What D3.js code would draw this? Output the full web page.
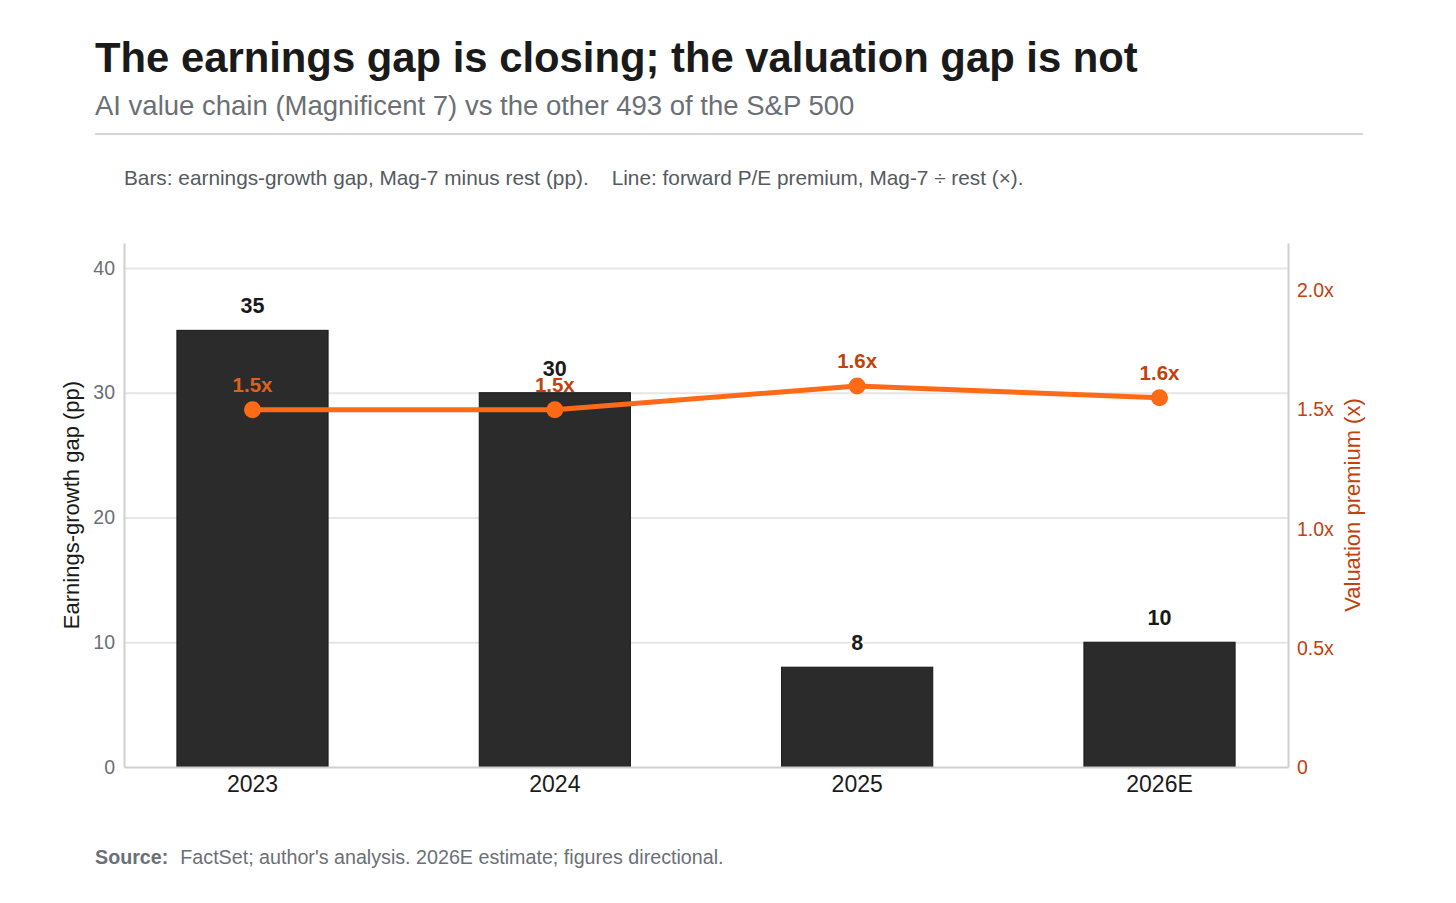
<!DOCTYPE html>
<html>
<head>
<meta charset="utf-8">
<script src="https://cdn.jsdelivr.net/npm/d3@7"></script>
<style>
    body { margin: 0; background: #fff; }
    svg { display: block; font-family: "Liberation Sans", Arial, sans-serif; }
    .grid line { stroke: #e6e6e6; stroke-width: 2; }
    .grid .domain { display: none; }
    .axis .domain { stroke: #cfcfcf; stroke-width: 2; }
    .axis .tick line { display: none; }
</style>
</head>
<body>
<svg id="svg"></svg>
<script>
// data
const years = ['2023', '2024', '2025', '2026E'];
const earningsGap = [35, 30, 8, 10];          // pp, Mag-7 minus rest
const peRatio = [1.5, 1.5, 1.6, 1.55];        // forward P/E premium (x)
const peLabels = ['1.5x', '1.5x', '1.6x', '1.6x'];
const leftTicks = [0, 10, 20, 30, 40];
const rightTicks = [0, 0.5, 1.0, 1.5, 2.0];

const W = 1456, H = 903;
const margin = {top: 243, left: 124, right: 168, bottom: 136};
const width = W - margin.left - margin.right;
const height = H - margin.top - margin.bottom;

const orange = '#ff6a17';
const darkOrange = '#c2410c';

const svg = d3.select('#svg')
    .attr('width', W)
    .attr('height', H);

// header
svg.append('text')
    .attr('x', 95).attr('y', 72)
    .attr('font-size', 41.8).attr('font-weight', 700).attr('fill', '#1a1a1a')
    .text('The earnings gap is closing; the valuation gap is not');

svg.append('text')
    .attr('x', 95).attr('y', 115)
    .attr('font-size', 27.5).attr('fill', '#6b6f76')
    .text('AI value chain (Magnificent 7) vs the other 493 of the S&P 500');

svg.append('line')
    .attr('x1', 95).attr('x2', 1363)
    .attr('y1', 134).attr('y2', 134)
    .attr('stroke', '#d6d6d6').attr('stroke-width', 2);

const note = svg.append('text')
    .attr('x', 124).attr('y', 185)
    .attr('font-size', 20.8).attr('fill', '#555a60');
note.append('tspan').text('Bars: earnings-growth gap, Mag-7 minus rest (pp).');
note.append('tspan').attr('dx', 23).text('Line: forward P/E premium, Mag-7 \u00f7 rest (\u00d7).');

const g = svg.append('g')
    .attr('transform', 'translate(' + margin.left + ',' + margin.top + ')');

const x = d3.scaleBand()
    .domain(years)
    .range([0, width])
    .paddingInner(0.5)
    .paddingOuter(0.175);

const y = d3.scaleLinear()
    .domain([0, 42])
    .range([height, 0]);

const y2 = d3.scaleLinear()
    .domain([0, 2.2])
    .range([height, 0]);

// gridlines
g.append('g')
    .attr('class', 'grid')
    .call(d3.axisLeft(y).tickValues(leftTicks.slice(1)).tickSize(-width).tickFormat(''));

// bars
g.append('g').selectAll('rect')
    .data(earningsGap)
  .enter().append('rect')
    .attr('x', (d, i) => x(years[i]))
    .attr('y', d => y(d))
    .attr('width', x.bandwidth())
    .attr('height', d => height - y(d))
    .attr('fill', '#2b2b2b')
    .attr('stroke', '#161616')
    .attr('stroke-width', 1);

// axes
const yAxis = g.append('g')
    .attr('class', 'axis')
    .call(d3.axisLeft(y).tickValues(leftTicks).tickSize(0).tickPadding(9));
yAxis.selectAll('text').attr('font-size', 19.5).attr('fill', '#6b6f76');

const y2Axis = g.append('g')
    .attr('class', 'axis')
    .attr('transform', 'translate(' + width + ',0)')
    .call(d3.axisRight(y2).tickValues(rightTicks).tickSize(0).tickPadding(9)
        .tickFormat(d => d === 0 ? '0' : d3.format('.1f')(d) + 'x'));
y2Axis.selectAll('text').attr('font-size', 19.5).attr('fill', darkOrange);

const xAxis = g.append('g')
    .attr('class', 'axis')
    .attr('transform', 'translate(0,' + height + ')')
    .call(d3.axisBottom(x).tickSize(0).tickPadding(9));
xAxis.selectAll('text').attr('font-size', 23).attr('fill', '#1a1a1a');

// axis titles
g.append('text')
    .attr('transform', 'translate(-45,' + (height / 2) + ') rotate(-90)')
    .attr('text-anchor', 'middle')
    .attr('font-size', 22).attr('fill', '#1a1a1a')
    .text('Earnings-growth gap (pp)');

g.append('text')
    .attr('transform', 'translate(' + (width + 72) + ',' + (height / 2) + ') rotate(-90)')
    .attr('text-anchor', 'middle')
    .attr('font-size', 22).attr('fill', darkOrange)
    .text('Valuation premium (x)');

// bar value labels
g.append('g').selectAll('text')
    .data(earningsGap)
  .enter().append('text')
    .attr('x', (d, i) => x(years[i]) + x.bandwidth() / 2)
    .attr('y', d => y(d) - 17)
    .attr('text-anchor', 'middle')
    .attr('font-size', 21.5).attr('font-weight', 700)
    .attr('fill', '#1a1a1a')
    .attr('stroke', '#fff').attr('stroke-width', 3).attr('paint-order', 'stroke')
    .text(d => d);

// premium line
const cx = (d, i) => x(years[i]) + x.bandwidth() / 2;

g.append('path')
    .datum(peRatio)
    .attr('fill', 'none')
    .attr('stroke', orange)
    .attr('stroke-width', 5)
    .attr('stroke-linejoin', 'round')
    .attr('d', d3.line().x(cx).y(d => y2(d)));

g.append('g').selectAll('circle')
    .data(peRatio)
  .enter().append('circle')
    .attr('cx', cx)
    .attr('cy', d => y2(d))
    .attr('r', 8.5)
    .attr('fill', orange);

// line labels: lighter tone where the label sits over a bar
g.append('g').selectAll('text')
    .data(peRatio)
  .enter().append('text')
    .attr('x', cx)
    .attr('y', d => y2(d) - 18)
    .attr('text-anchor', 'middle')
    .attr('font-size', 20.5).attr('font-weight', 700)
    .attr('fill', (d, i) => y2(d) - 25 > y(earningsGap[i]) ? '#e0621a' : darkOrange)
    .text((d, i) => peLabels[i]);

// source
const src = svg.append('text')
    .attr('x', 95).attr('y', 864)
    .attr('font-size', 19.7).attr('fill', '#6b6f76');
src.append('tspan').attr('font-weight', 700).text('Source:');
src.append('tspan').attr('dx', 12).text("FactSet; author's analysis. 2026E estimate; figures directional.");
</script>
</body>
</html>
